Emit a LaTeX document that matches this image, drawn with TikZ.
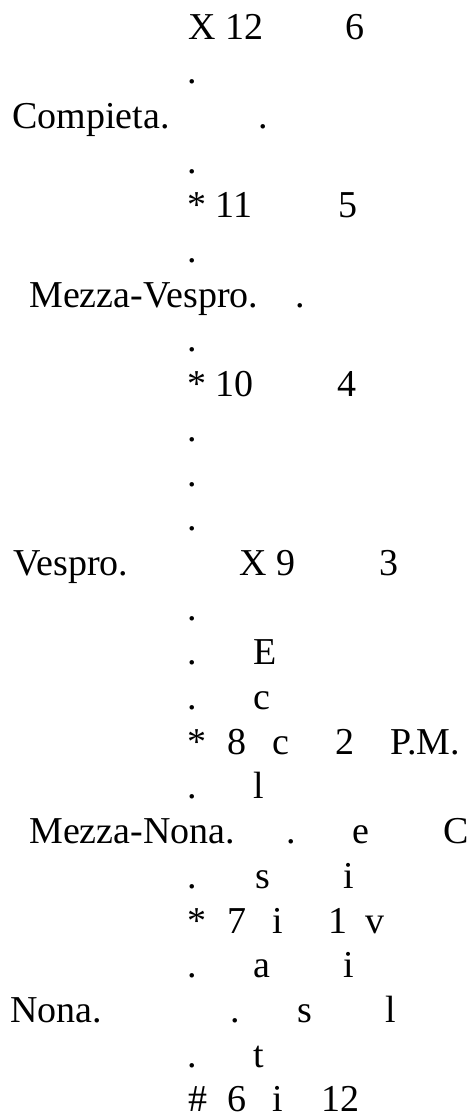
\documentclass[tikz,border=0pt]{standalone}
\usepackage{fontspec}
\setmainfont{Liberation Serif}
\usetikzlibrary{positioning}
\tikzset{
  lbl/.style={anchor=base west, inner sep=0pt, font=\fontsize{28.5}{34}\selectfont},
  dt/.style={lbl, anchor=base},
}

\begin{document}
\begin{tikzpicture}[x=0.75pt, y=-0.75pt]
\useasboundingbox (0,0) rectangle (473,1114);
% left column: hours of the office
\node[lbl] (compieta) at (12,128.4) {Compieta.};
\node[lbl] (mvespro) at (29,307.2) {Mezza-Vespro.};
\node[lbl] (vespro) at (13,575.4) {Vespro.};
\node[lbl] (mnona) at (29,843.6) {Mezza-Nona.};
\node[lbl] (nona) at (10,1022.4) {Nona.};

% ecclesiastical hours
\node[lbl] (e12) at (188,39) {X 12};
\node[lbl] (e11) at (187,217.8) {* 11};
\node[lbl] (e10) at (187,396.6) {* 10};
\node[lbl] (e9) at (239,575.4) {X 9};
\node[lbl] (s8) at (187,754.2) {*};
\node[lbl] (e8) at (227,754.2) {8};
\node[lbl] (s7) at (187,933) {*};
\node[lbl] (e7) at (227,933) {7};
\node[lbl] (s6) at (188,1111.8) {\#};
\node[lbl] (e6) at (227,1111.8) {6};

% civil hours
\node[lbl] (c6) at (345,39) {6};
\node[lbl] (c5) at (338,217.8) {5};
\node[lbl] (c4) at (337,396.6) {4};
\node[lbl] (c3) at (379,575.4) {3};
\node[lbl] (c2) at (335,754.2) {2};
\node[lbl] (pm) at (390,754.2) {P.M.};
\node[lbl] (c1) at (328,933) {1};
\node[lbl] (c12) at (321,1111.8) {12};

% dots
\node[dt] (d2) at (192,83.7) {.};
\node[dt] (d3) at (263,128.4) {.};
\node[dt] (d4) at (192,173.1) {.};
\node[dt] (d6) at (192,262.5) {.};
\node[dt] (d7) at (300,307.2) {.};
\node[dt] (d8) at (192,351.9) {.};
\node[dt] (d10) at (192,441.3) {.};
\node[dt] (d11) at (192,486) {.};
\node[dt] (d12) at (192,530.7) {.};
\node[dt] (d14) at (192,620.1) {.};
\node[dt] (d15) at (192,664.8) {.};
\node[dt] (d16) at (192,709.5) {.};
\node[dt] (d18) at (192,798.9) {.};
\node[dt] (d19) at (291,843.6) {.};
\node[dt] (d20) at (192,888.3) {.};
\node[dt] (d22) at (192,977.7) {.};
\node[dt] (d23) at (235,1022.4) {.};
\node[dt] (d24) at (192,1067.1) {.};

% Ecclesiastica, read downwards
\node[lbl] (eccl1) at (253,664.8) {E};
\node[lbl] (eccl2) at (253,709.5) {c};
\node[lbl] (eccl3) at (272,754.2) {c};
\node[lbl] (eccl4) at (253,798.9) {l};
\node[lbl] (eccl5) at (352,843.6) {e};
\node[lbl] (eccl6) at (255,888.3) {s};
\node[lbl] (eccl7) at (272,933) {i};
\node[lbl] (eccl8) at (253,977.7) {a};
\node[lbl] (eccl9) at (297,1022.4) {s};
\node[lbl] (eccl10) at (253,1067.1) {t};
\node[lbl] (eccl11) at (272,1111.8) {i};

% Civil, read downwards
\node[lbl] (civ1) at (443,843.6) {C};
\node[lbl] (civ2) at (343,888.3) {i};
\node[lbl] (civ3) at (365,933) {v};
\node[lbl] (civ4) at (343,977.7) {i};
\node[lbl] (civ5) at (385,1022.4) {l};
\end{tikzpicture}
\end{document}
